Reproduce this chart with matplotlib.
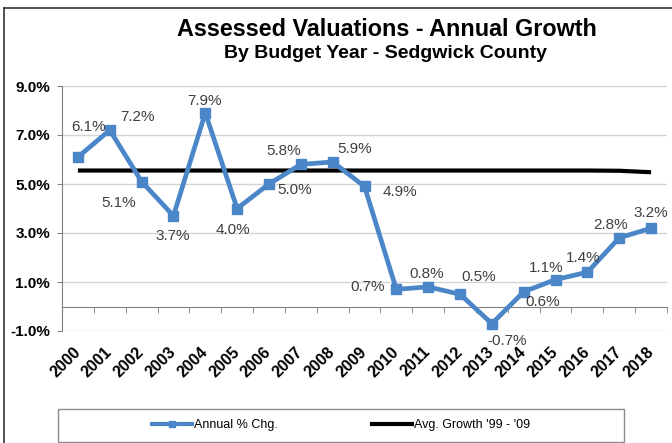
import matplotlib
matplotlib.use("Agg")
import matplotlib.pyplot as plt
from matplotlib.lines import Line2D
from matplotlib.patches import Rectangle
from matplotlib.ticker import FuncFormatter

# ---- data ----
years = ["2000", "2001", "2002", "2003", "2004", "2005", "2006", "2007", "2008", "2009",
         "2010", "2011", "2012", "2013", "2014", "2015", "2016", "2017", "2018"]
annual_pct = [6.1, 7.2, 5.1, 3.7, 7.9, 4.0, 5.0, 5.8, 5.9, 4.9,
              0.7, 0.8, 0.5, -0.7, 0.6, 1.1, 1.4, 2.8, 3.2]
avg_growth = [5.55, 5.55, 5.55, 5.55, 5.55, 5.55, 5.55, 5.55, 5.55, 5.55,
              5.55, 5.55, 5.55, 5.55, 5.55, 5.55, 5.55, 5.54, 5.48]
y_ticks = [-1.0, 1.0, 3.0, 5.0, 7.0, 9.0]
series_names = ["Annual % Chg.", "Avg. Growth '99 - '09"]
title = "Assessed Valuations - Annual Growth"
subtitle = "By Budget Year - Sedgwick County"

# label offsets in pixels (dx, dy) relative to each point
label_offsets = [(11, 30), (28, 13), (-23, -21), (-1, -20), (-1, 12), (-4, -21),
                 (26, -6), (-17, 13), (22, 13), (35, -6), (-29, 2), (-1, 13),
                 (19, 17), (15, -17), (19, -10), (-9, 12), (-4, 14), (-9, 13), (0, 15)]

plt.rcParams["font.family"] = ["Liberation Sans", "DejaVu Sans"]

W, H = 672, 443
fig = plt.figure(figsize=(W / 100, H / 100), dpi=100)
fig.patch.set_facecolor("white")

ax = fig.add_axes([62 / W, 1 - 331 / H, 605 / W, 245 / H])

blue = "#4a86c8"
x = list(range(len(years)))
ax.plot(x, avg_growth, color="black", lw=3.0, solid_capstyle="butt", zorder=3)
ax.plot(x, annual_pct, color=blue, lw=3.4, marker="s", markersize=7.5,
        markeredgecolor=blue, markerfacecolor=blue, zorder=4)

for xi, v, (dx, dy) in zip(x, annual_pct, label_offsets):
    ax.annotate(f"{v:.1f}%", (xi, v), xytext=(dx, dy), textcoords="offset pixels",
                ha="center", va="center", fontsize=11, color="#404040", zorder=5)

ax.set_xlim(-0.5, len(years) - 0.5)
ax.set_ylim(-1, 9)
ax.set_yticks(y_ticks)
ax.yaxis.set_major_formatter(FuncFormatter(lambda v, p: f"{v:.1f}%"))
ax.grid(axis="y", color="#d4d4d4", lw=1.0, zorder=0)
ax.set_axisbelow(True)

for s in ["top", "right"]:
    ax.spines[s].set_visible(False)
ax.spines["bottom"].set_position(("data", 0))
ax.spines["bottom"].set_color("#808080")
ax.spines["left"].set_color("#808080")

ax.set_xticks(x)
ax.set_xticklabels(years, rotation=45, ha="right", va="center",
                   rotation_mode="anchor", fontsize=11.5, fontweight="bold")
ax.set_xticks([i - 0.5 for i in range(len(years) + 1)], minor=True)
ax.tick_params(axis="x", which="major", length=0, pad=31)
ax.tick_params(axis="x", which="minor", length=4, direction="out", color="#808080")
ax.tick_params(axis="y", length=3.5, color="#808080", pad=5, labelsize=11)
for t in ax.get_yticklabels():
    t.set_fontweight("bold")

fig.text(387 / W, 1 - 30 / H, title, ha="center", va="center",
         fontsize=16.8, fontweight="bold")
fig.text(386 / W, 1 - 53 / H, subtitle, ha="center", va="center",
         fontsize=14, fontweight="bold")

# legend box
fig.add_artist(Rectangle((58 / W, 1 / H), 566 / W, 33 / H, transform=fig.transFigure,
                         fill=False, edgecolor="#8c8c8c", lw=1.0))
handles = [Line2D([], [], color=blue, lw=3, marker="s", markersize=4),
           Line2D([], [], color="black", lw=3)]
fig.legend(handles, series_names, loc="center", bbox_to_anchor=(341 / W, 1 - 425 / H),
           ncol=2, frameon=False, fontsize=9, handlelength=3.2, columnspacing=7.5,
           handletextpad=0.2)

# outer border
fig.add_artist(Line2D([3.5 / W, 3.5 / W], [1 - 7.5 / H, 0], transform=fig.transFigure,
                      color="#333333", lw=1.2))
fig.add_artist(Line2D([3.5 / W, 1], [1 - 7.5 / H, 1 - 7.5 / H], transform=fig.transFigure,
                      color="#333333", lw=1.2))

fig.savefig("out.png", dpi=100)
